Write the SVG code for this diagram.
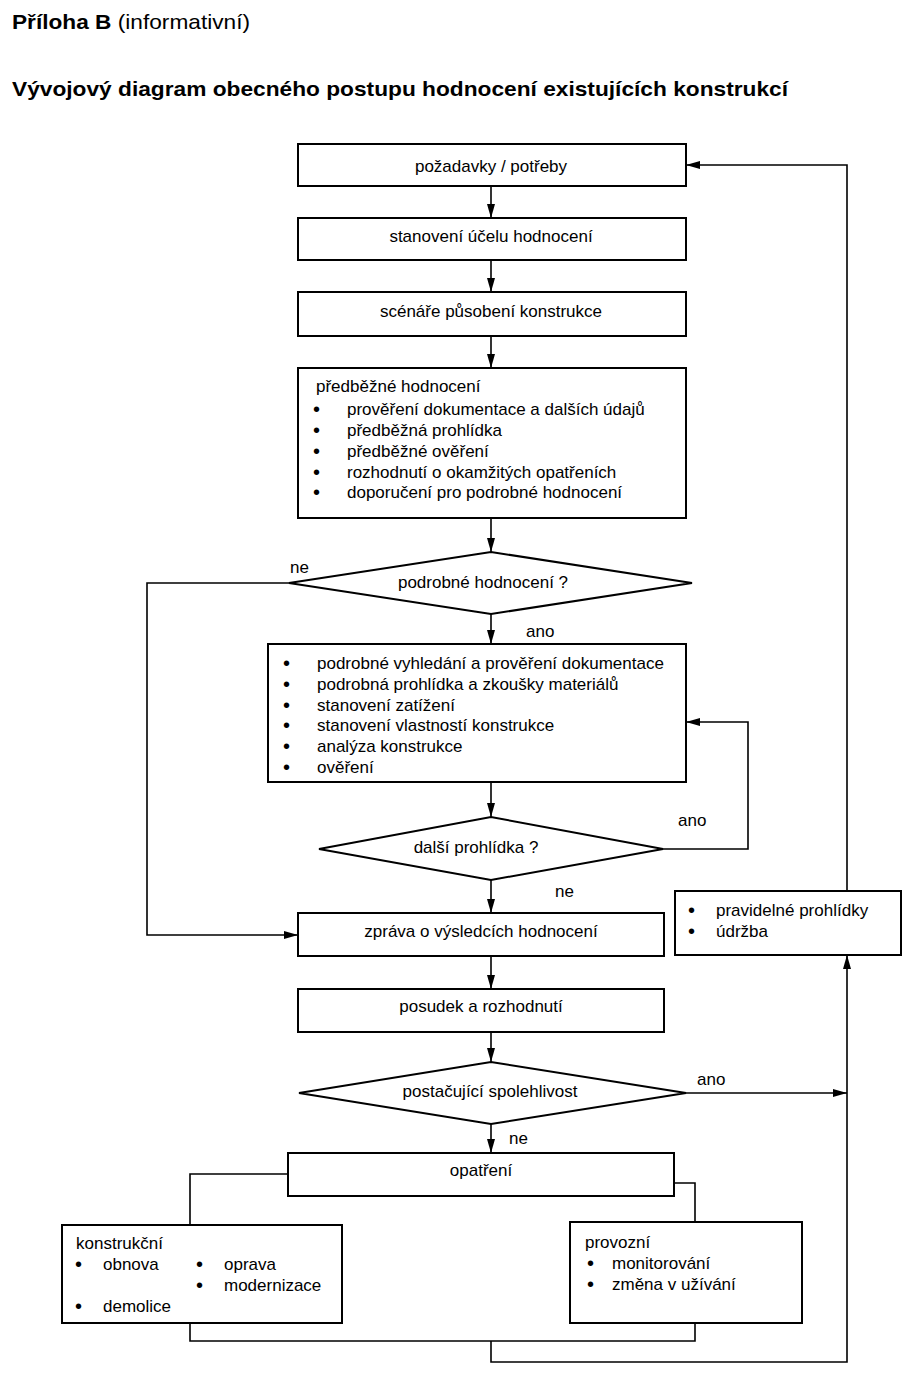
<svg xmlns="http://www.w3.org/2000/svg" width="906" height="1375" viewBox="0 0 906 1375">
<defs>
<marker id="ah" markerUnits="userSpaceOnUse" markerWidth="15" markerHeight="9" refX="14" refY="4" orient="auto">
<path d="M0,0 L14,4 L0,8 z" fill="#000"/>
</marker>
<style>
text{font-family:"Liberation Sans",Arial,sans-serif;font-size:17px;fill:#000}
.c{text-anchor:middle}
.h{font-size:21px}
.b{font-weight:bold}
.bu{font-size:20px}
.box{fill:#fff;stroke:#000;stroke-width:2}
.ln{fill:none;stroke:#000;stroke-width:1.6}
.arr{fill:none;stroke:#000;stroke-width:1.6;marker-end:url(#ah)}
</style>
</defs>
<rect width="906" height="1375" fill="#fff"/>
<g id="title">
<text x="12" y="29" class="h" textLength="238" lengthAdjust="spacingAndGlyphs"><tspan class="b">Příloha B</tspan> (informativní)</text>
<text x="12" y="96" class="h b" textLength="776" lengthAdjust="spacingAndGlyphs">Vývojový diagram obecného postupu hodnocení existujících konstrukcí</text>
</g>
<g id="connectors">
<path class="arr" d="M491,186 V218"/>
<path class="arr" d="M491,260 V292"/>
<path class="arr" d="M491,336 V368"/>
<path class="arr" d="M491,518 V552"/>
<path class="arr" d="M491,614 V644"/>
<path class="arr" d="M491,782 V817"/>
<path class="arr" d="M491,880 V913"/>
<path class="arr" d="M491,956 V989"/>
<path class="arr" d="M491,1032 V1062"/>
<path class="arr" d="M491,1124 V1153"/>
<path class="arr" d="M289,583 H147 V935 H298"/>
<path class="arr" d="M663,849 H748 V722 H686"/>
<path class="arr" d="M686,1093 H847"/>
<path class="arr" d="M847,891 V165 H686"/>
<path class="arr" d="M491,1341 V1362 H847 V955"/>
<path class="ln" d="M288,1174 H190 V1225"/>
<path class="ln" d="M674,1183 H695 V1222"/>
<path class="ln" d="M190,1323 V1341 H695 V1323"/>
<text x="290" y="573">ne</text>
<text x="526" y="637">ano</text>
<text x="678" y="826">ano</text>
<text x="555" y="897">ne</text>
<text x="697" y="1085">ano</text>
<text x="509" y="1144">ne</text>
</g>
<g id="n1"><rect class="box" x="298" y="144" width="388" height="42"/><text class="c" x="491" y="172">požadavky / potřeby</text></g>
<g id="n2"><rect class="box" x="298" y="218" width="388" height="42"/><text class="c" x="491" y="242">stanovení účelu hodnocení</text></g>
<g id="n3"><rect class="box" x="298" y="292" width="388" height="44"/><text class="c" x="491" y="317">scénáře působení konstrukce</text></g>
<g id="n4"><rect class="box" x="298" y="368" width="388" height="150"/>
<text x="316" y="392">předběžné hodnocení</text>
<text class="bu" x="313" y="416">•</text><text x="347" y="415">prověření dokumentace a dalších údajů</text>
<text class="bu" x="313" y="437">•</text><text x="347" y="436">předběžná prohlídka</text>
<text class="bu" x="313" y="458">•</text><text x="347" y="457">předběžné ověření</text>
<text class="bu" x="313" y="479">•</text><text x="347" y="478">rozhodnutí o okamžitých opatřeních</text>
<text class="bu" x="313" y="499">•</text><text x="347" y="498">doporučení pro podrobné hodnocení</text>
</g>
<g id="d1"><polygon class="box" points="289,583 491,552 692,583 491,614"/><text class="c" x="483" y="588">podrobné hodnocení ?</text></g>
<g id="n5"><rect class="box" x="268" y="644" width="418" height="138"/>
<text class="bu" x="283" y="670">•</text><text x="317" y="669">podrobné vyhledání a prověření dokumentace</text>
<text class="bu" x="283" y="691">•</text><text x="317" y="690">podrobná prohlídka a zkoušky materiálů</text>
<text class="bu" x="283" y="712">•</text><text x="317" y="711">stanovení zatížení</text>
<text class="bu" x="283" y="732">•</text><text x="317" y="731">stanovení vlastností konstrukce</text>
<text class="bu" x="283" y="753">•</text><text x="317" y="752">analýza konstrukce</text>
<text class="bu" x="283" y="774">•</text><text x="317" y="773">ověření</text>
</g>
<g id="d2"><polygon class="box" points="319,849 491,817 663,849 491,880"/><text class="c" x="476" y="853">další prohlídka ?</text></g>
<g id="n6"><rect class="box" x="298" y="913" width="366" height="43"/><text class="c" x="481" y="937">zpráva o výsledcích hodnocení</text></g>
<g id="n7"><rect class="box" x="298" y="989" width="366" height="43"/><text class="c" x="481" y="1012">posudek a rozhodnutí</text></g>
<g id="d3"><polygon class="box" points="299,1093 491,1062 686,1093 491,1124"/><text class="c" x="490" y="1097">postačující spolehlivost</text></g>
<g id="n8"><rect class="box" x="288" y="1153" width="386" height="43"/><text class="c" x="481" y="1176">opatření</text></g>
<g id="n9"><rect class="box" x="675" y="891" width="226" height="64"/>
<text class="bu" x="688" y="917">•</text><text x="716" y="916">pravidelné prohlídky</text>
<text class="bu" x="688" y="938">•</text><text x="716" y="937">údržba</text>
</g>
<g id="n10"><rect class="box" x="62" y="1225" width="280" height="98"/>
<text x="76" y="1249">konstrukční</text>
<text class="bu" x="75" y="1271">•</text><text x="103" y="1270">obnova</text>
<text class="bu" x="196" y="1271">•</text><text x="224" y="1270">oprava</text>
<text class="bu" x="196" y="1292">•</text><text x="224" y="1291">modernizace</text>
<text class="bu" x="75" y="1313">•</text><text x="103" y="1312">demolice</text>
</g>
<g id="n11"><rect class="box" x="570" y="1222" width="232" height="101"/>
<text x="585" y="1248">provozní</text>
<text class="bu" x="587" y="1270">•</text><text x="612" y="1269">monitorování</text>
<text class="bu" x="587" y="1291">•</text><text x="612" y="1290">změna v užívání</text>
</g>
</svg>
